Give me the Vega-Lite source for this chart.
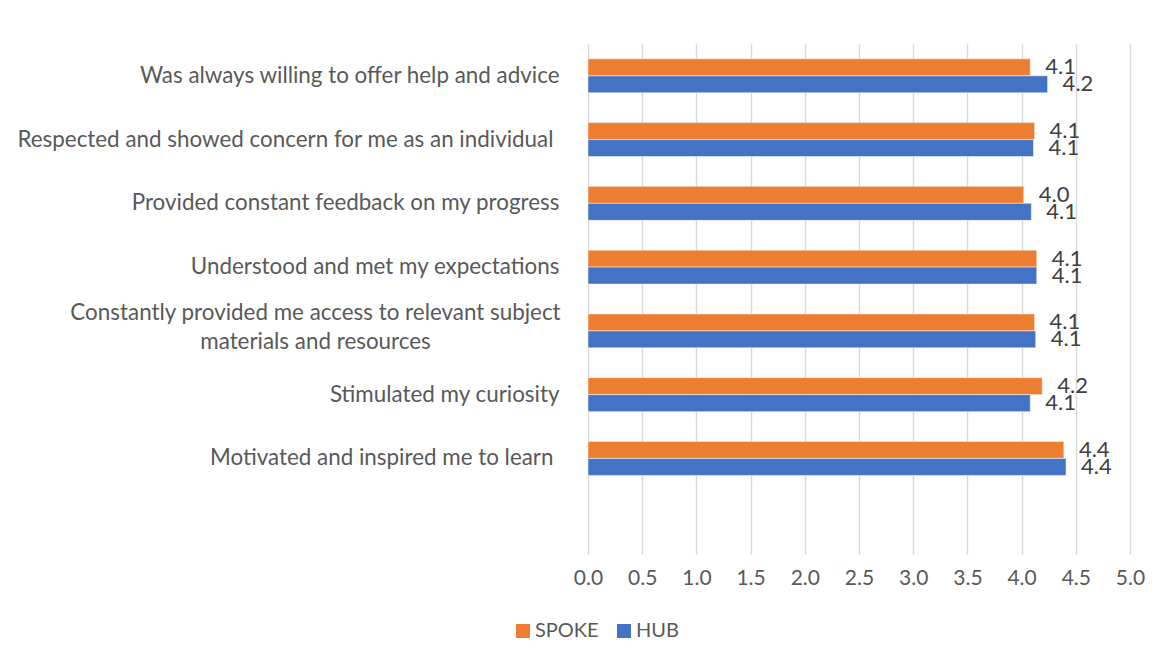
{
  "$schema": "https://vega.github.io/schema/vega-lite/v6.json",
  "width": 542,
  "height": 510,
  "autosize": "none",
  "padding": {"left": 588, "top": 44, "right": 30, "bottom": 104},
  "background": "white",
  "config": {"view": {"stroke": null}, "font": "Lato"},
  "data": {
    "values": [
      {"item": "Was always willing to offer help and advice", "group": "SPOKE", "score": 4.08},
      {"item": "Was always willing to offer help and advice", "group": "HUB", "score": 4.24},
      {"item": "Respected and showed concern for me as an individual ", "group": "SPOKE", "score": 4.12},
      {"item": "Respected and showed concern for me as an individual ", "group": "HUB", "score": 4.11},
      {"item": "Provided constant feedback on my progress", "group": "SPOKE", "score": 4.02},
      {"item": "Provided constant feedback on my progress", "group": "HUB", "score": 4.09},
      {"item": "Understood and met my expectations", "group": "SPOKE", "score": 4.14},
      {"item": "Understood and met my expectations", "group": "HUB", "score": 4.14},
      {"item": "Constantly provided me access to relevant subject|materials and resources", "group": "SPOKE", "score": 4.12},
      {"item": "Constantly provided me access to relevant subject|materials and resources", "group": "HUB", "score": 4.13},
      {"item": "Stimulated my curiosity", "group": "SPOKE", "score": 4.19},
      {"item": "Stimulated my curiosity", "group": "HUB", "score": 4.08},
      {"item": "Motivated and inspired me to learn ", "group": "SPOKE", "score": 4.39},
      {"item": "Motivated and inspired me to learn ", "group": "HUB", "score": 4.41}
    ]
  },
  "encoding": {
    "y": {
      "field": "item",
      "type": "nominal",
      "title": null,
      "scale": {
        "domain": [
          "Was always willing to offer help and advice",
          "Respected and showed concern for me as an individual ",
          "Provided constant feedback on my progress",
          "Understood and met my expectations",
          "Constantly provided me access to relevant subject|materials and resources",
          "Stimulated my curiosity",
          "Motivated and inspired me to learn ",
          "blank"
        ],
        "paddingInner": 0.467,
        "paddingOuter": 0.233
      },
      "axis": {
        "domain": false,
        "ticks": false,
        "labelFontSize": 22.4,
        "labelColor": "#595959",
        "labelLimit": 700,
        "labelLineHeight": 29,
        "labelAlign": {"condition": {"test": "indexof(datum.value, '|') >= 0", "value": "center"}, "value": "right"},
        "labelPadding": {"condition": [
          {"test": "indexof(datum.value, '|') >= 0", "value": 273},
          {"test": "lastindexof(datum.value, ' ') == length(datum.value) - 1", "value": 35}
        ], "value": 29},
        "labelOffset": {"condition": {"test": "indexof(datum.value, '|') >= 0", "value": -18}, "value": 0},
        "labelExpr": "datum.value == 'blank' ? '' : split(datum.value, '|')"
      }
    },
    "yOffset": {
      "field": "group",
      "type": "nominal",
      "sort": ["SPOKE", "HUB"],
      "scale": {"paddingInner": 0, "paddingOuter": 0}
    },
    "x": {
      "field": "score",
      "type": "quantitative",
      "title": null,
      "scale": {"domain": [0, 5], "nice": false},
      "axis": {
        "values": [0, 0.5, 1, 1.5, 2, 2.5, 3, 3.5, 4, 4.5, 5],
        "format": ".1f",
        "domain": false,
        "ticks": false,
        "grid": true,
        "gridColor": "#d9d9d9",
        "gridWidth": 1.5,
        "labelFlush": false,
        "labelFontSize": 21,
        "labelColor": "#595959",
        "labelPadding": 13
      }
    }
  },
  "layer": [
    {
      "mark": {"type": "bar", "stroke": "white", "strokeWidth": 0.5},
      "encoding": {
        "color": {
          "field": "group",
          "type": "nominal",
          "scale": {"domain": ["SPOKE", "HUB"], "range": ["#ED7D31", "#4472C4"]},
          "legend": {
            "title": null,
            "orient": "none",
            "direction": "horizontal",
            "legendX": -75,
            "legendY": 577,
            "symbolType": "square",
            "symbolSize": 196,
            "symbolStrokeWidth": 0,
            "symbolOpacity": 1,
            "labelFontSize": 20,
            "labelColor": "#595959",
            "labelOffset": 2,
            "columnPadding": 15,
            "padding": 0
          }
        }
      }
    },
    {
      "mark": {"type": "text", "align": "left", "baseline": "middle", "dx": 15, "fontSize": 22, "color": "#404040"},
      "encoding": {
        "text": {"field": "score", "type": "quantitative", "format": ".1f"}
      }
    }
  ]
}
